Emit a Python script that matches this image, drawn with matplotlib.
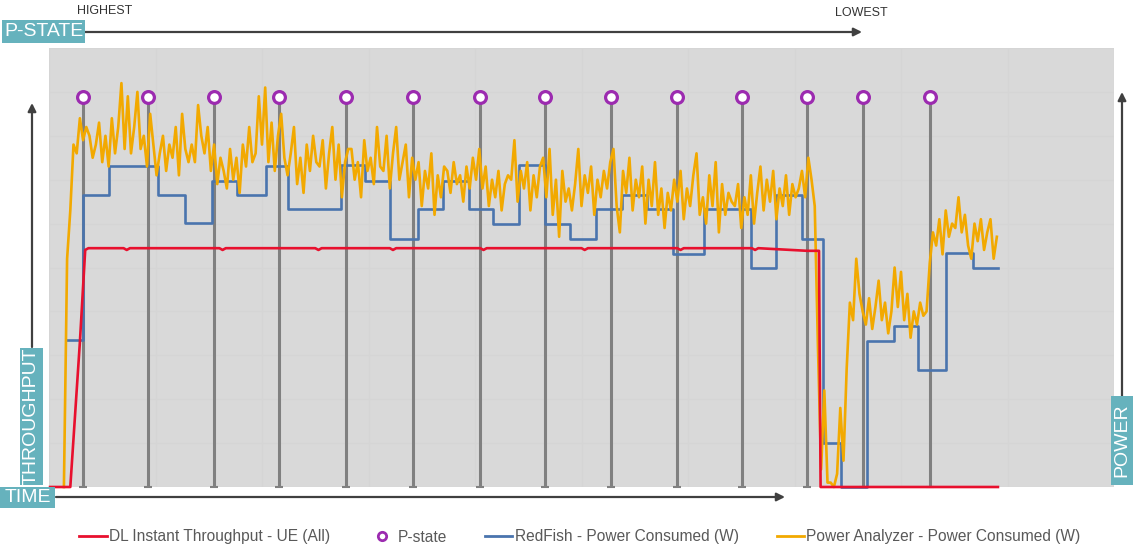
import numpy as np
import matplotlib
matplotlib.use("Agg")
import matplotlib.pyplot as plt
from matplotlib.patches import Rectangle, FancyArrowPatch
from matplotlib.lines import Line2D

# --- data (time axis 0..100, both signals on a 0..100 relative scale) ---
pstate_t = [3.16, 9.32, 15.52, 21.62, 27.86, 34.21, 40.47, 46.6, 52.74,
            58.94, 65.04, 71.15, 76.46, 82.72]
pstate_level = 88.8

red_t = [0.1, 2.0, 2.9, 3.4, 3.7, 7.0, 7.3, 7.6, 16.0, 16.3, 16.6, 25.0, 25.3,
         25.6, 32.0, 32.3, 32.6, 40.5, 40.8, 41.1, 50.0, 50.3, 50.6, 59.0,
         59.3, 59.6, 66.0, 66.3, 66.6, 71.2, 72.3, 72.45, 89.1]
red_v = [0, 0, 33, 54.0, 54.4, 54.4, 54.0, 54.4, 54.4, 54.0, 54.4, 54.4, 54.0,
         54.4, 54.4, 54.0, 54.4, 54.4, 54.0, 54.4, 54.4, 54.0, 54.4, 54.4,
         54.0, 54.4, 54.4, 54.0, 54.4, 53.8, 53.8, 0, 0]

blue_t = [1.6, 3.15, 5.63, 10.23, 12.77, 15.31, 17.65, 20.38, 22.44, 27.42,
          29.67, 32.02, 34.65, 37.0, 39.44, 41.69, 44.13, 46.57, 48.92, 51.36,
          53.8, 56.15, 58.59, 61.5, 65.92, 68.26, 70.7, 72.68, 74.37, 76.81,
          79.34, 81.6, 84.23, 86.76, 89.11]
blue_v = [33.5, 66.5, 73.1, 66.5, 60.1, 69.7, 66.5, 73.1, 63.3, 73.3,
          69.7, 56.5, 63.3, 69.7, 63.3, 59.9, 73.3, 59.9, 56.5, 63.3,
          66.5, 63.3, 53.1, 63.3, 49.9, 66.5, 56.5, 10.0, 0, 33.3,
          36.7, 26.7, 53.3, 49.9, 49.9]

# power analyzer, one sample every 0.3 time units starting at 1.4
orange_v = [
    0, 52, 63, 78, 76, 84, 79, 82, 80, 75,
    78, 83, 74, 80, 73, 84, 76, 82, 92, 77,
    89, 76, 82, 90, 77, 80, 73, 85, 78, 71,
    76, 80, 72, 78, 75, 82, 71, 85, 77, 74,
    78, 74, 87, 80, 76, 82, 72, 78, 69, 75,
    72, 68, 77, 70, 75, 67, 78, 73, 82, 74,
    76, 89, 78, 91, 74, 83, 72, 80, 85, 75,
    71, 76, 82, 69, 75, 67, 78, 72, 80, 74,
    73, 79, 68, 76, 82, 70, 78, 66, 74, 77,
    77, 70, 74, 66, 79, 72, 75, 69, 82, 73,
    72, 80, 68, 76, 82, 70, 74, 78, 66, 75,
    70, 74, 64, 72, 68, 76, 62, 71, 66, 73,
    72, 67, 74, 69, 71, 65, 73, 68, 75, 70,
    77, 68, 73, 64, 70, 66, 72, 63, 69, 71,
    70, 79, 65, 72, 68, 74, 63, 71, 66, 73,
    75, 66, 77, 62, 70, 57, 72, 65, 68, 63,
    69, 77, 64, 71, 67, 73, 62, 70, 66, 72,
    68, 74, 77, 64, 58, 72, 67, 75, 63, 70,
    66, 73, 60, 70, 64, 74, 62, 68, 59, 67,
    63, 70, 65, 72, 61, 68, 64, 71, 76, 62,
    66, 60, 71, 64, 74, 58, 69, 62, 67, 65,
    64, 69, 59, 66, 62, 71, 60, 67, 73, 63,
    70, 65, 72, 61, 68, 64, 71, 62, 69, 66,
    68, 72, 66, 75, 70, 64, 32, 4, 22, 1,
    1, 0, 3, 18, 6, 27, 42, 38, 52, 44,
    40, 37, 43, 36, 41, 47, 38, 42, 35, 40,
    50, 41, 49, 38, 44, 34, 40, 37, 42, 39,
    40, 51, 58, 55, 61, 53, 63, 57, 60, 59,
    66, 58, 62, 55, 52, 60, 56, 61, 54, 58,
    61, 52, 57]
orange_t = 1.4 + 0.3 * np.arange(len(orange_v))

labels = ["DL Instant Throughput - UE (All)", "P-state",
          "RedFish - Power Consumed (W)", "Power Analyzer - Power Consumed (W)"]

RED = "#e8102e"
BLUE = "#4a74ae"
ORANGE = "#f2a900"
PURPLE = "#9c2bb0"
STEM = "#808080"
TEAL = "#66b2bd"
DARK = "#404040"

W, H = 1133, 550
plt.rcParams["font.family"] = ["Liberation Sans", "DejaVu Sans"]

fig = plt.figure(figsize=(W / 100, H / 100), dpi=100)
ax = fig.add_axes([49 / W, 1 - 487 / H, 1065 / W, 439 / H])
ax.set_facecolor("#d9d9d9")
ax.set_xlim(0, 100)
ax.set_ylim(0, 100)
for s in ax.spines.values():
    s.set_visible(False)
ax.set_xticks(np.arange(0, 101, 10))
ax.set_yticks(np.arange(0, 101, 10))
ax.tick_params(length=0, labelbottom=False, labelleft=False)
ax.grid(True, color="#d5d5d5", lw=0.8)
ax.set_axisbelow(True)

# p-state stems
ax.vlines(pstate_t, 0, pstate_level, color=STEM, lw=2.2, zorder=2)
ax.plot(pstate_t, [0] * len(pstate_t), ls="none", marker="_", ms=6, mew=1.5,
        color=STEM, zorder=2, clip_on=False)

ax.step(blue_t, blue_v, where="post", color=BLUE, lw=1.9, zorder=3, clip_on=False)
ax.plot(orange_t, orange_v, color=ORANGE, lw=1.9, zorder=4, clip_on=False)
ax.plot(red_t, red_v, color=RED, lw=1.9, zorder=5, clip_on=False)
ax.plot(pstate_t, [pstate_level] * len(pstate_t), ls="none", marker="o", ms=8.5,
        mfc="white", mec=PURPLE, mew=2.3, zorder=6)

# decorations in pixel coords
def fx(px):
    return px / W

def fy(py):
    return 1 - py / H

def teal_box(x0, y0, x1, y1, text, rot=0):
    fig.add_artist(Rectangle((fx(x0), fy(y1)), (x1 - x0) / W, (y1 - y0) / H,
                             transform=fig.transFigure, color=TEAL, lw=0))
    fig.text(fx((x0 + x1) / 2), fy((y0 + y1) / 2), text, color="white",
             fontsize=14, rotation=rot, ha="center", va="center")

def arrow(x0, y0, x1, y1):
    fig.add_artist(FancyArrowPatch((fx(x0), fy(y0)), (fx(x1), fy(y1)),
                                   transform=fig.transFigure, arrowstyle="-|>",
                                   mutation_scale=12, lw=1.6, color=DARK,
                                   shrinkA=0, shrinkB=0))

arrow(85, 32, 862, 32)
arrow(32, 347, 32, 103)
arrow(56, 497, 785, 497)
arrow(1122, 397, 1122, 92)

teal_box(2, 20, 85, 43, "P-STATE")
teal_box(20, 348, 43, 485, "THROUGHPUT", rot=90)
teal_box(0, 487, 55, 508, "TIME")
teal_box(1111, 396, 1133, 485, "POWER", rot=90)

fig.text(fx(105), fy(11), "HIGHEST", fontsize=9, color="#333333", ha="center", va="center")
fig.text(fx(861), fy(13), "LOWEST", fontsize=9, color="#333333", ha="center", va="center")

handles = [
    Line2D([], [], color=RED, lw=2),
    Line2D([], [], ls="none", marker="o", ms=6, mfc="white", mec=PURPLE, mew=2),
    Line2D([], [], color=BLUE, lw=2),
    Line2D([], [], color=ORANGE, lw=2),
]
fig.legend(handles, labels, loc="center", bbox_to_anchor=(fx(580), fy(537)),
           ncol=4, frameon=False, fontsize=11.2, handlelength=1.75,
           handletextpad=0.15, columnspacing=2.45, labelcolor="#595959")

fig.savefig("out.png", dpi=100)
